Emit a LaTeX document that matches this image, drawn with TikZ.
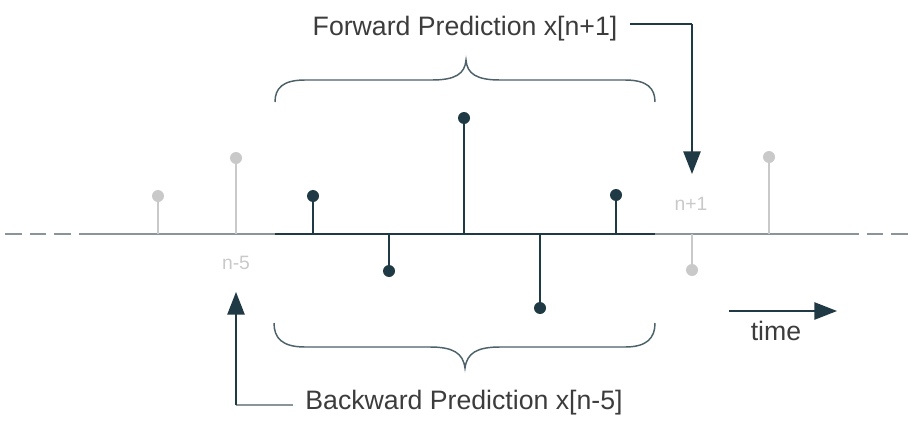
\documentclass[tikz,border=0pt]{standalone}
\usepackage{fontspec}
\setmainfont{Liberation Sans}
\usetikzlibrary{arrows.meta}
\definecolor{dark}{HTML}{1F3A44}
\definecolor{lgrey}{HTML}{C9C9C9}
\definecolor{mgrey}{HTML}{8A9499}
\definecolor{txt}{HTML}{3C3C3C}
\begin{document}
\begin{tikzpicture}[x=0.75pt,y=-0.75pt,
  stemd/.style={draw=dark,line width=1.3pt},
  stemg/.style={draw=lgrey,line width=1.3pt},
  dotd/.style={circle,fill=dark,inner sep=0pt,minimum size=9pt},
  dotg/.style={circle,fill=lgrey,inner sep=0pt,minimum size=9pt},
  lbl/.style={text=txt,font=\fontsize{20}{24}\selectfont,inner sep=0pt},
  smlbl/.style={text=lgrey,font=\fontsize{14.5}{17}\selectfont,inner sep=0pt},
  brace/.style={draw=dark!80,line width=1.1pt},
  arr/.style={draw=dark,line width=1.2pt,-{Triangle[length=17pt,width=13pt]}}]
\useasboundingbox (0,0) rectangle (914,421);
% axis
\coordinate (al) at (5,234);
\coordinate (a1) at (83,234);
\coordinate (a2) at (275,234);
\coordinate (a3) at (655,234);
\coordinate (a4) at (842,234);
\coordinate (ar) at (914,234);
\draw[mgrey,line width=1.4pt,dash pattern=on 12.5pt off 6pt] (al) -- (a1);
\draw[mgrey,line width=1.4pt] (a1) -- (a2);
\draw[dark,line width=1.4pt] (a2) -- (a3);
\draw[mgrey,line width=1.4pt] (a3) -- (a4);
\draw[mgrey,line width=1.4pt,dash pattern=on 12.5pt off 6pt] (a4) -- (ar);
% stems
\foreach \n/\x/\y/\s in {s1/158/196/g, s2/236/158/g, s3/313/196/d, s4/389/271/d, s5/464/118/d, s6/540/308/d, s7/616/195/d, s8/692/270/g, s9/769/157/g}{
  \coordinate (\n b) at (\x,234);
  \node[dot\s] (\n) at (\x,\y) {};
  \draw[stem\s] (\n b) -- (\n);
}
% labels
\node[smlbl] (ln5) at (236,263) {n-5};
\node[smlbl] (ln1) at (691,204) {n+1};
% braces
\draw[brace] (275,102) .. controls (275,88) and (283,80) .. (305,80) -- (432,80) .. controls (455,80) and (465,74) .. (466,60)
  .. controls (467,74) and (477,80) .. (500,80) -- (625,80) .. controls (647,80) and (655,88) .. (655,102);
\draw[brace] (274,323) .. controls (274,338) and (282,347) .. (305,347) -- (430,347) .. controls (453,347) and (463,353) .. (465,368)
  .. controls (467,353) and (477,347) .. (500,347) -- (625,347) .. controls (647,347) and (655,338) .. (655,323);
% forward
\node[lbl] (fw) at (465,29) {Forward Prediction x[n+1]};
\coordinate (fc) at (692,24);
\coordinate (ft) at (692,174);
\draw[dark,line width=1.2pt] (630,24) -- (fc);
\draw[arr] (fc) -- (ft);
% backward
\node[lbl] (bw) at (464,403) {Backward Prediction x[n-5]};
\coordinate (bc) at (236,405);
\coordinate (bt) at (236,292);
\draw[mgrey,line width=1.2pt] (293,405) -- (bc);
\draw[arr] (bc) -- (bt);
% time
\coordinate (t0) at (729,311);
\coordinate (t1) at (837,311);
\draw[arr] (t0) -- (t1);
\node[lbl] (tm) at (776,331) {time};
\end{tikzpicture}
\end{document}
